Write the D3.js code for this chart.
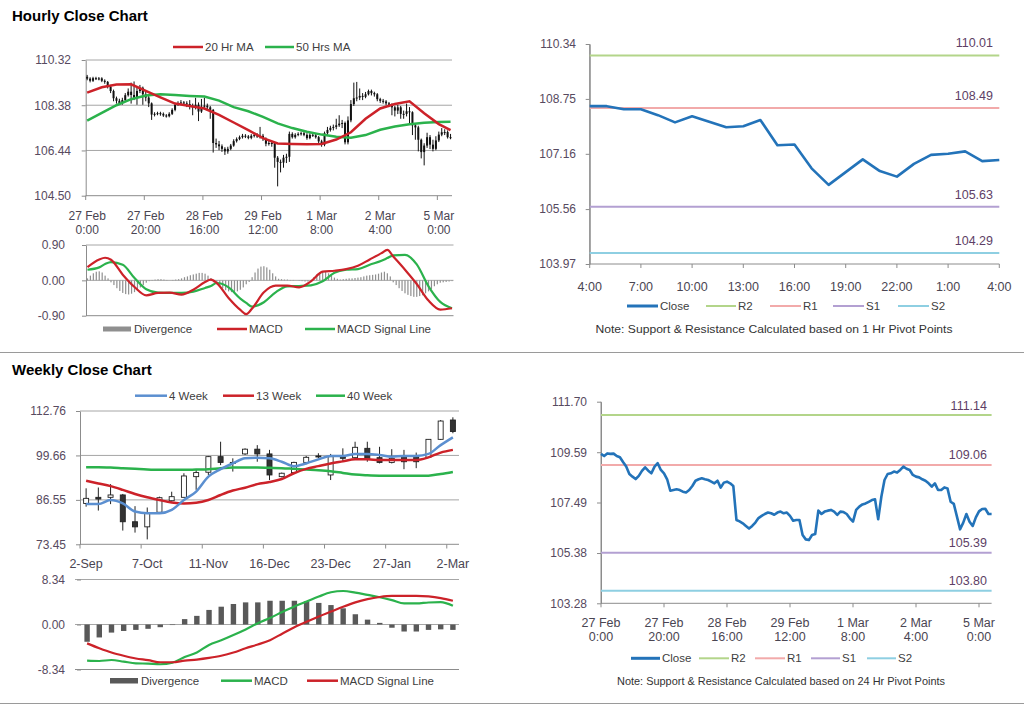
<!DOCTYPE html>
<html><head><meta charset="utf-8">
<script src="https://cdn.jsdelivr.net/npm/d3@7"></script>
<style>body{margin:0;background:#fff;} svg text{font-family:"Liberation Sans",Arial,sans-serif;}</style>
</head><body>
<svg id="chart" width="1024" height="706"></svg>
<script>
// ================= DATA =================
const hourTickLabels = [['27 Feb','0:00'],['27 Feb','20:00'],['28 Feb','16:00'],['29 Feb','12:00'],['1 Mar','8:00'],['2 Mar','4:00'],['5 Mar','0:00']];
const hourlyOpenFirst = 109.60;
const hourlyClose = [109.52,109.43,109.54,109.52,109.53,109.43,109.38,109.18,108.99,108.68,
108.57,108.47,108.60,108.81,108.96,108.82,108.71,108.99,109.13,108.85,
108.71,108.46,107.98,108.01,108.04,108.01,107.94,107.91,108.01,108.18,
108.40,108.46,108.50,108.46,108.43,108.36,108.29,108.40,108.11,108.32,
108.36,108.29,108.18,106.76,106.70,106.62,106.51,106.40,106.51,106.65,
106.84,106.93,107.01,107.07,107.04,106.98,107.07,107.11,107.04,107.07,
106.93,106.73,106.76,106.76,106.13,105.95,105.92,106.13,106.17,107.15,
107.01,107.11,107.15,107.18,107.11,106.97,107.11,107.09,107.01,106.83,
106.69,107.18,107.32,107.41,107.45,107.52,107.59,107.62,106.79,107.73,
108.43,108.68,108.71,108.78,108.74,108.85,108.99,108.90,108.85,108.64,
108.57,108.54,108.46,108.40,108.29,108.15,108.29,108.01,108.01,108.12,
108.08,107.52,107.43,106.90,106.37,106.65,107.01,106.69,106.51,106.87,
107.12,107.22,107.23,107.01,107.01];
const hourlyHigh = [109.68,109.58,109.60,109.60,109.59,109.58,109.49,109.42,109.25,109.05,
108.75,108.66,108.70,108.90,109.10,109.35,109.40,109.20,109.25,109.18,
108.95,108.80,108.50,108.08,108.10,108.10,108.07,108.00,108.08,108.25,
108.48,108.55,108.60,108.56,108.55,108.60,108.45,108.70,108.50,108.65,
108.70,108.45,108.35,108.22,106.95,106.85,106.70,106.58,106.60,106.72,
106.92,107.00,107.08,107.15,107.14,107.10,107.14,107.20,107.18,107.45,
107.15,107.00,106.85,106.85,106.80,106.20,106.05,106.25,106.30,107.25,
107.22,107.18,107.22,107.25,107.24,107.18,107.18,107.18,107.15,107.06,
106.90,107.25,107.45,107.50,107.55,107.80,107.95,107.75,107.68,107.90,
108.60,109.35,109.38,109.10,108.90,108.95,109.05,109.05,108.96,108.90,
108.70,108.65,108.60,108.52,108.46,108.35,108.40,108.35,108.15,108.45,
108.30,108.12,107.60,107.50,106.95,106.75,107.20,107.10,106.90,107.05,
107.25,107.40,107.35,107.30,107.15];
const hourlyLow = [109.45,109.36,109.38,109.46,109.45,109.37,109.30,109.10,108.90,108.55,
108.45,108.40,108.40,108.55,108.75,108.45,108.60,108.40,108.90,108.40,
108.55,108.30,107.75,107.90,107.95,107.93,107.88,107.85,107.86,107.96,
108.12,108.35,108.40,108.38,108.30,108.20,107.95,108.20,107.70,108.05,
108.20,108.15,107.80,106.35,106.55,106.45,106.38,106.25,106.30,106.45,
106.60,106.78,106.88,106.95,106.97,106.92,106.92,107.00,106.98,106.95,
106.85,106.62,106.65,106.60,105.70,104.90,105.50,105.70,105.90,105.95,
106.95,106.95,107.05,107.08,107.05,106.90,106.92,107.02,106.95,106.75,
106.60,106.62,107.12,107.25,107.30,107.35,107.45,107.40,106.70,106.70,
107.65,108.35,108.55,108.60,108.60,108.68,108.80,108.80,108.75,108.55,
108.48,108.45,108.38,108.30,107.95,107.90,108.00,107.80,107.80,107.90,
107.60,107.10,106.90,106.40,106.10,105.80,106.55,106.50,106.40,106.45,
106.80,107.05,107.10,106.95,106.92];
const maIdx = [0,5,10,15,20,25,30,35,40,45,50,55,60,65,70,75,80,85,90,95,100,105,110,115,120,124];
const ma20Hr = [108.92,109.15,109.27,109.28,109.00,108.72,108.45,108.35,108.24,107.97,107.64,107.31,106.97,106.74,106.72,106.71,106.72,106.91,107.22,107.80,108.24,108.43,108.55,108.04,107.57,107.31];
const ma50Hr = [107.72,108.05,108.38,108.64,108.80,108.85,108.82,108.78,108.75,108.58,108.30,108.12,107.88,107.60,107.40,107.24,107.12,107.03,106.99,107.10,107.33,107.47,107.56,107.63,107.66,107.67];
const hourYTicks = [104.50,106.44,108.38,110.32];

const hMacdDivergence = [0.05,0.12,0.18,0.22,0.23,0.2,0.12,0.05,
-0.05,-0.12,-0.2,-0.27,-0.32,-0.35,-0.36,-0.34,-0.3,-0.25,-0.18,-0.12,-0.06,-0.02,
0.01,0.02,0.03,0.03,0.02,0.01,0.0,0.01,0.02,0.03,
0.05,0.08,0.1,0.13,0.15,0.17,0.19,0.19,0.17,0.12,0.06,
-0.05,-0.1,-0.15,-0.2,-0.25,-0.28,-0.3,-0.3,-0.28,-0.24,-0.18,-0.1,-0.04,
0.08,0.2,0.3,0.35,0.36,0.33,0.27,0.18,0.1,0.04,
0.03,0.02,0.02,0.01,0.01,0.0,-0.01,
-0.02,-0.03,-0.03,-0.02,
0.08,0.15,0.2,0.23,0.22,0.18,0.12,0.07,0.04,0.02,
0.03,0.04,0.05,0.05,0.06,0.07,0.08,0.1,0.12,0.13,0.14,0.15,0.17,0.2,0.22,0.18,0.1,
-0.05,-0.12,-0.2,-0.27,-0.33,-0.37,-0.4,-0.42,-0.42,-0.4,-0.38,-0.33,-0.28,-0.22,-0.15,-0.1,-0.06,
-0.05,-0.04,-0.03,-0.02];
const hMacdIdx = [0,4,6,8,12,16,20,24,28,32,36,40,42,44,48,52,54,56,60,64,68,72,76,80,84,88,92,96,100,102,104,108,112,116,120,124];
const hMacd = [0.338,0.532,0.575,0.524,0.144,-0.169,-0.380,-0.321,-0.313,-0.363,-0.237,-0.042,0.017,-0.068,-0.448,-0.752,-0.862,-0.718,-0.304,-0.135,-0.135,-0.177,-0.025,0.220,0.245,0.287,0.372,0.532,0.693,0.777,0.608,0.270,-0.093,-0.515,-0.744,-0.710];
const hSignal = [0.270,0.330,0.414,0.465,0.397,0.059,-0.228,-0.313,-0.321,-0.321,-0.287,-0.194,-0.144,-0.068,-0.177,-0.465,-0.575,-0.668,-0.558,-0.304,-0.152,-0.144,-0.127,-0.025,0.194,0.270,0.287,0.397,0.499,0.566,0.634,0.651,0.406,-0.152,-0.549,-0.710];
const hMacdTicks = [-0.90,0.00,0.90];

const pivotLevelNames = ['R2','R1','S1','S2'];
const pivot1hTickLabels = ['4:00','7:00','10:00','13:00','16:00','19:00','22:00','1:00','4:00'];
const pivot1hClose = [108.54,108.54,108.45,108.45,108.28,108.07,108.25,108.09,107.93,107.96,108.14,107.41,107.43,106.74,106.26,106.63,107.00,106.66,106.50,106.87,107.13,107.16,107.23,106.95,106.98];
const pivot1hLevels = [110.01,108.49,105.63,104.29];
const pivot1hYTicks = [103.97,105.56,107.16,108.75,110.34];
const pivot24hLevels = [111.14,109.06,105.39,103.80];
const pivot24hYTicks = [103.28,105.38,107.49,109.59,111.70];

const weekTickLabels = ['2-Sep','7-Oct','11-Nov','16-Dec','23-Dec','27-Jan','2-Mar'];
const weekOpen  = [85.5,87.3,87.3,88.0,80.1,78.6,82.9,86.3,87.3,93.4,94.7,99.3,97.6,100.1,101.5,100.1,93.4,94.6,97.6,99.5,93.9,99.1,99.0,101.75,99.0,97.6,99.5,99.1,99.1,104.4,110.1];
const weekHigh  = [89.96,90.2,91.2,88.3,84.7,84.3,87.5,88.96,94.4,95.4,99.5,103.7,98.8,101.75,102.7,101.3,94.6,97.8,99.5,100.3,100.1,101.75,103.7,103.7,102.2,101.5,101.3,100.5,104.4,110.1,110.9];
const weekLow   = [84.55,83.4,85.3,77.5,76.9,74.9,82.6,86.0,87.3,89.5,93.9,96.8,94.9,99.8,97.8,92.4,93.2,94.4,97.1,98.8,92.4,97.8,98.8,97.8,97.3,97.3,95.6,95.9,99.1,104.2,106.2];
const weekClose = [87.0,86.8,88.0,80.1,78.6,82.6,87.2,87.5,93.6,94.6,99.3,97.6,97.3,101.5,100.1,93.9,94.4,97.6,99.1,99.4,99.3,99.0,102.05,98.8,97.6,98.8,97.8,97.8,104.4,109.8,106.7];
const ma4Week  = [85.3,85.3,86.5,85.5,83.1,82.6,82.6,83.6,86.5,89.0,93.4,95.6,97.3,98.8,99.0,98.8,97.8,96.5,97.3,98.5,99.5,99.5,100.1,100.1,99.8,99.3,99.5,99.5,100.1,102.7,105.0];
const ma13Week = [92.2,91.4,90.6,89.5,88.3,87.3,86.5,85.8,85.5,85.7,86.5,88.0,89.3,90.15,91.2,91.8,92.7,94.4,95.7,96.5,97.3,97.9,98.5,98.5,98.3,98.3,98.3,98.3,99.1,100.5,101.3];
const ma40Week = [96.2,96.2,96.1,95.9,95.7,95.5,95.4,95.4,95.4,95.5,95.6,95.9,96.1,96.1,96.1,96.0,95.9,95.7,95.5,95.3,95.0,94.5,94.0,93.8,93.7,93.7,93.7,93.7,93.7,94.2,94.8];
const weekYTicks = [73.45,86.55,99.66,112.76];

const wMacdDivergence = [-3.2,-2.4,-1.5,-1.2,-1.0,-0.8,-0.5,-0.1,1.0,1.6,2.7,3.3,3.8,4.1,4.1,4.4,4.4,4.4,4.3,4.0,3.6,3.0,1.9,0.9,0.3,-0.6,-1.3,-1.3,-1.0,-0.9,-1.0];
const wMacd = [-6.70,-6.76,-6.58,-6.88,-7.19,-7.25,-7.37,-7.06,-6.03,-5.18,-3.78,-2.92,-1.95,-0.91,0.24,1.22,2.31,3.35,4.26,5.18,5.97,6.21,5.91,5.48,5.05,4.51,3.90,3.90,4.08,4.14,3.47];
const wSignal = [-3.5,-4.4,-5.2,-5.8,-6.3,-6.6,-7.0,-7.0,-6.7,-6.5,-6.2,-5.8,-5.2,-4.4,-3.7,-2.9,-1.7,-0.5,0.5,1.5,2.4,3.3,4.1,4.7,5.1,5.3,5.3,5.3,5.2,4.9,4.4];
const wMacdTicks = [-8.34,0.00,8.34];

// ================= STYLE =================
const AX = '#8c8c8c', GRID = '#a6a6a6', YLAB = '#574a60', XLAB = '#4a4552', LEG = '#404040';
const RED = '#cc2229', GREEN = '#2bb24c', BLUE = '#5b8fd0', CLOSE = '#2373b9';
const levelColors = ['#b3d58a','#f2aaaa','#b3a0d2','#8ecfe2'];

const svg = d3.select('#chart');
const fmt2 = d => d.toFixed(2);

function text(x, y, s, o = {}) {
  return svg.append('text').attr('x', x).attr('y', y).text(s)
    .attr('font-size', o.size || 12).attr('fill', o.fill || LEG)
    .attr('text-anchor', o.anchor || 'start').attr('font-weight', o.weight || 'normal')
    .attr('dominant-baseline', 'central');
}
function hline(x1, x2, y, color, w = 1) {
  svg.append('line').attr('x1', x1).attr('x2', x2).attr('y1', y).attr('y2', y)
    .attr('stroke', color).attr('stroke-width', w);
}
function vline(x, y1, y2, color, w = 1) {
  svg.append('line').attr('x1', x).attr('x2', x).attr('y1', y1).attr('y2', y2)
    .attr('stroke', color).attr('stroke-width', w);
}
function leftAxis(scale, ticks, x, labelRight, showDomain = true) {
  const g = svg.append('g').attr('transform', `translate(${x},0)`)
    .call(d3.axisLeft(scale).tickValues(ticks).tickSize(4).tickSizeOuter(0).tickFormat(fmt2));
  g.select('.domain').attr('stroke', showDomain ? AX : 'none');
  g.selectAll('.tick line').attr('stroke', AX);
  g.selectAll('.tick text').attr('x', labelRight - x).attr('font-size', 12)
    .attr('fill', YLAB).attr('font-family', '"Liberation Sans", Arial, sans-serif');
  return g;
}
function legendLine(x1, x2, y, color, label, w = 2.5) {
  hline(x1, x2, y, color, w);
  text(x2 + 2, y, label, {size: 11.5});
}

// Titles and separators
text(12, 15, 'Hourly Close Chart', {size: 15, weight: 'bold', fill: '#000'});
text(12, 369, 'Weekly Close Chart', {size: 15, weight: 'bold', fill: '#000'});
hline(0, 1024, 352.5, '#9a9a9a', 1);
hline(0, 1024, 703.5, '#9a9a9a', 1);

// ================= PANEL A: hourly candles =================
(function () {
  const n = hourlyClose.length;
  const x = d3.scaleBand().domain(d3.range(n)).range([85.7, 452]);
  const bw = x.bandwidth();
  const y = d3.scaleLinear().domain([hourYTicks[0], hourYTicks[3]]).range([195.7, 60]);
  hourYTicks.slice(1).forEach(t => hline(85.7, 452, y(t), GRID));
  hline(85.7, 452, y(hourYTicks[0]), AX);
  leftAxis(y, hourYTicks, 85.7, 71);
  const tickIdx = d3.range(0, n, 20);
  tickIdx.forEach((i, k) => {
    vline(x(i), 195.7, 200, AX);
    text(x(i) + bw / 2, 215.5, hourTickLabels[k][0], {fill: XLAB, anchor: 'middle'});
    text(x(i) + bw / 2, 229.5, hourTickLabels[k][1], {fill: XLAB, anchor: 'middle'});
  });
  const hourlyOpen = [hourlyOpenFirst].concat(hourlyClose.slice(0, -1));
  const g = svg.append('g');
  hourlyClose.forEach((c, i) => {
    const cx = x(i) + bw / 2;
    g.append('line').attr('x1', cx).attr('x2', cx).attr('y1', y(hourlyHigh[i])).attr('y2', y(hourlyLow[i]))
      .attr('stroke', '#111').attr('stroke-width', 1);
    const y0 = y(Math.max(c, hourlyOpen[i])), y1 = y(Math.min(c, hourlyOpen[i]));
    g.append('rect').attr('x', cx - 1).attr('width', 2).attr('y', y0).attr('height', Math.max(1, y1 - y0)).attr('fill', '#111');
  });
  const line = d3.line().x((d, k) => x(maIdx[k]) + bw / 2).y(d => y(d));
  svg.append('path').datum(ma50Hr).attr('d', line).attr('fill', 'none').attr('stroke', GREEN).attr('stroke-width', 2.5);
  svg.append('path').datum(ma20Hr).attr('d', line).attr('fill', 'none').attr('stroke', RED).attr('stroke-width', 2.5);
  legendLine(173, 203, 47, RED, '20 Hr MA');
  legendLine(265, 294, 47, GREEN, '50 Hrs MA');
})();

// ================= PANEL B: hourly MACD =================
(function () {
  const n = hMacdDivergence.length;
  const x = d3.scaleBand().domain(d3.range(n)).range([86, 453.5]);
  const bw = x.bandwidth();
  const y = d3.scaleLinear().domain([-0.9, 0.9]).range([315.7, 245]);
  hline(86, 453.5, y(0.9), GRID);
  hline(86, 453.5, y(0), GRID);
  hline(86, 453.5, y(-0.9), AX);
  leftAxis(y, hMacdTicks, 86, 65);
  svg.append('g').selectAll('rect').data(hMacdDivergence).join('rect')
    .attr('x', (d, i) => x(i) + bw / 2 - 0.6).attr('width', 1.2)
    .attr('y', d => Math.min(y(d), y(0))).attr('height', d => Math.abs(y(d) - y(0)))
    .attr('fill', '#8f8f8f');
  const line = d3.line().x((d, k) => x(hMacdIdx[k]) + bw / 2).y(d => y(d)).curve(d3.curveMonotoneX);
  svg.append('path').datum(hSignal).attr('d', line).attr('fill', 'none').attr('stroke', GREEN).attr('stroke-width', 2.2);
  svg.append('path').datum(hMacd).attr('d', line).attr('fill', 'none').attr('stroke', RED).attr('stroke-width', 2.2);
  svg.append('rect').attr('x', 103).attr('y', 326.5).attr('width', 28).attr('height', 5).attr('fill', '#8f8f8f');
  text(134, 329, 'Divergence', {size: 11.5});
  legendLine(217, 247, 329, RED, 'MACD');
  legendLine(305, 335, 329, GREEN, 'MACD Signal Line');
})();

// ================= pivot panels helper =================
function pivotPanel(cfg) {
  const x = d3.scaleLinear().domain([0, cfg.close.length - 1]).range([cfg.x0, cfg.x1]);
  const y = d3.scaleLinear().domain([cfg.ticks[0], cfg.ticks[cfg.ticks.length - 1]]).range([cfg.y0, cfg.y1]);
  vline(cfg.x0, cfg.y1, cfg.y0, AX);
  hline(cfg.x0, cfg.x1, cfg.y0, AX);
  leftAxis(y, cfg.ticks, cfg.x0, cfg.labelRight);
  cfg.tickIdx.forEach((i, k) => {
    vline(x(i), cfg.y0, cfg.y0 + 4, AX);
    const lab = cfg.tickLabels[k];
    if (Array.isArray(lab)) {
      text(x(i), cfg.xLabY, lab[0], {fill: XLAB, anchor: 'middle', size: 12.5});
      text(x(i), cfg.xLabY + 14, lab[1], {fill: XLAB, anchor: 'middle', size: 12.5});
    } else {
      text(x(i), cfg.xLabY, lab, {fill: XLAB, anchor: 'middle', size: 12.5});
    }
  });
  cfg.levels.forEach((v, k) => {
    hline(cfg.x0, cfg.x1, y(v), levelColors[k], 2);
    text(cfg.levelLabelX, y(v) - cfg.levelLabelDy, v.toFixed(2), {anchor: 'end', fill: '#5e3f66', size: 12.5});
  });
  svg.append('path').datum(cfg.close)
    .attr('d', d3.line().x((d, i) => x(i)).y(d => y(d)))
    .attr('fill', 'none').attr('stroke', CLOSE).attr('stroke-width', 2.6).attr('stroke-linejoin', 'round');
  const L = cfg.legend;
  legendLine(L.xs[0][0], L.xs[0][1], L.y, CLOSE, 'Close', 3);
  pivotLevelNames.forEach((nm, k) => legendLine(L.xs[k + 1][0], L.xs[k + 1][1], L.y, levelColors[k], nm, 2));
  text(cfg.note.x, cfg.note.y, cfg.note.text, {anchor: 'middle', size: 10.5, fill: '#333'})
    .attr('textLength', cfg.note.len).attr('lengthAdjust', 'spacingAndGlyphs');
}

// ================= PANEL C: 1-hour pivot =================
pivotPanel({
  close: pivot1hClose, ticks: pivot1hYTicks, levels: pivot1hLevels,
  x0: 589.7, x1: 999.3, y0: 264, y1: 44, labelRight: 576,
  tickIdx: d3.range(0, 25, 3), tickLabels: pivot1hTickLabels, xLabY: 287,
  levelLabelX: 993, levelLabelDy: 12,
  legend: {y: 306, xs: [[627, 658], [706, 736], [770, 801], [833, 864], [898, 929]]},
  note: {x: 774, y: 328.5, len: 357, text: 'Note: Support & Resistance Calculated based on 1 Hr Pivot Points'}
});

// ================= PANEL F: 24-hour pivot =================
pivotPanel({
  close: hourlyClose, ticks: pivot24hYTicks, levels: pivot24hLevels,
  x0: 601, x1: 991.6, y0: 603.3, y1: 401.7, labelRight: 587,
  tickIdx: d3.range(0, 125, 20), tickLabels: hourTickLabels, xLabY: 622.7,
  levelLabelX: 987, levelLabelDy: 9.5,
  legend: {y: 658.3, xs: [[631, 660], [699, 729], [755, 785], [811, 840], [867, 896]]},
  note: {x: 781, y: 680.7, len: 328, text: 'Note: Support & Resistance Calculated based on 24 Hr Pivot Points'}
});

// ================= PANEL D: weekly candles =================
(function () {
  const n = weekClose.length;
  const x = d3.scaleBand().domain(d3.range(n)).range([80, 459]);
  const bw = x.bandwidth();
  const y = d3.scaleLinear().domain([weekYTicks[0], weekYTicks[3]]).range([544.3, 411]);
  weekYTicks.slice(1).forEach(t => hline(80, 459, y(t), GRID));
  hline(80, 459, y(weekYTicks[0]), AX);
  leftAxis(y, weekYTicks, 80, 66);
  d3.range(0, n, 5).forEach((i, k) => {
    vline(x(i), 544.3, 548.5, AX);
    text(x(i) + bw / 2, 563.5, weekTickLabels[k], {fill: XLAB, anchor: 'middle', size: 12.5});
  });
  const g = svg.append('g');
  weekClose.forEach((c, i) => {
    const cx = x(i) + bw / 2, o = weekOpen[i];
    g.append('line').attr('x1', cx).attr('x2', cx).attr('y1', y(weekHigh[i])).attr('y2', y(weekLow[i]))
      .attr('stroke', '#222').attr('stroke-width', 1);
    const y0 = y(Math.max(c, o)), y1 = y(Math.min(c, o));
    g.append('rect').attr('x', cx - 2.5).attr('width', 5).attr('y', y0).attr('height', Math.max(1, y1 - y0))
      .attr('fill', c >= o ? '#fff' : '#333').attr('stroke', '#222').attr('stroke-width', 0.9);
  });
  const line = d3.line().x((d, i) => x(i) + bw / 2).y(d => y(d)).curve(d3.curveMonotoneX);
  svg.append('path').datum(ma40Week).attr('d', line).attr('fill', 'none').attr('stroke', GREEN).attr('stroke-width', 2.5);
  svg.append('path').datum(ma13Week).attr('d', line).attr('fill', 'none').attr('stroke', RED).attr('stroke-width', 2.5);
  svg.append('path').datum(ma4Week).attr('d', line).attr('fill', 'none').attr('stroke', BLUE).attr('stroke-width', 2.5);
  legendLine(135, 167, 395.7, BLUE, '4 Week');
  legendLine(223, 254, 395.7, RED, '13 Week');
  legendLine(316, 345, 395.7, GREEN, '40 Week');
})();

// ================= PANEL E: weekly MACD =================
(function () {
  const n = wMacdDivergence.length;
  const x = d3.scaleBand().domain(d3.range(n)).range([81, 459]);
  const bw = x.bandwidth();
  const y = d3.scaleLinear().domain([-8.34, 8.34]).range([669.5, 579.5]);
  hline(75, 459, y(8.34), GRID);
  hline(75, 459, y(0), GRID);
  hline(75, 459, y(-8.34), AX);
  leftAxis(y, wMacdTicks, 81, 65, false);
  svg.append('g').selectAll('rect').data(wMacdDivergence).join('rect')
    .attr('x', (d, i) => x(i) + bw / 2 - 2.7).attr('width', 5.4)
    .attr('y', d => Math.min(y(d), y(0))).attr('height', d => Math.abs(y(d) - y(0)))
    .attr('fill', '#595959');
  const line = d3.line().x((d, i) => x(i) + bw / 2).y(d => y(d)).curve(d3.curveMonotoneX);
  svg.append('path').datum(wMacd).attr('d', line).attr('fill', 'none').attr('stroke', GREEN).attr('stroke-width', 2.2);
  svg.append('path').datum(wSignal).attr('d', line).attr('fill', 'none').attr('stroke', RED).attr('stroke-width', 2.2);
  svg.append('rect').attr('x', 110).attr('y', 678).attr('width', 28).attr('height', 5.5).attr('fill', '#595959');
  text(141, 680.7, 'Divergence', {size: 11.5});
  legendLine(221, 252, 680.7, GREEN, 'MACD');
  legendLine(307, 338, 680.7, RED, 'MACD Signal Line');
})();
</script>
</body></html>
